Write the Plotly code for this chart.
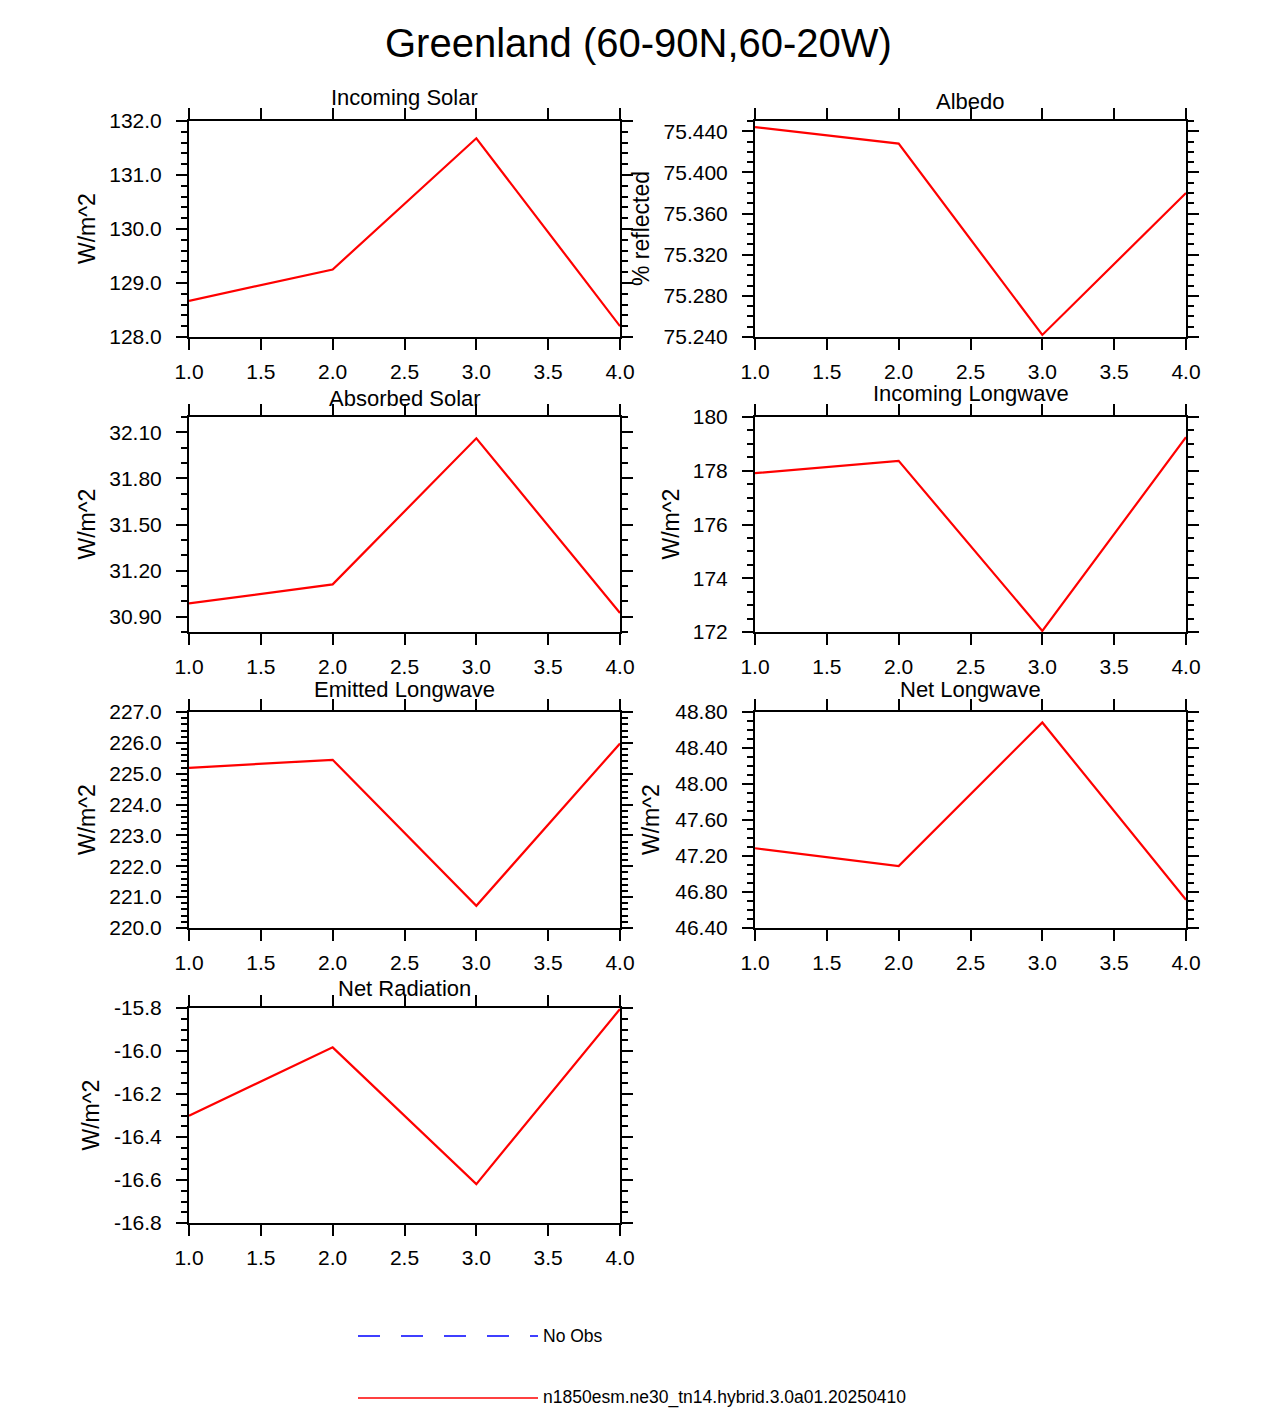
import plotly.graph_objects as go

# months on the x axis
months = [1, 2, 3, 4]

# regional means
incoming_solar = [128.67, 129.25, 131.68, 128.20]
albedo = [75.444, 75.428, 75.242, 75.380]
absorbed_solar = [30.986, 31.110, 32.061, 30.924]
incoming_lw = [177.91, 178.37, 172.04, 179.25]
emitted_lw = [225.19, 225.45, 220.72, 225.98]
net_lw = [47.286, 47.088, 48.684, 46.713]
net_rad = [-16.301, -15.983, -16.619, -15.805]

titles = ["Incoming Solar", "Albedo", "Absorbed Solar", "Incoming Longwave",
          "Emitted Longwave", "Net Longwave", "Net Radiation"]
units = ["W/m^2", "% reflected", "W/m^2", "W/m^2", "W/m^2", "W/m^2", "W/m^2"]
series = [incoming_solar, albedo, absorbed_solar, incoming_lw, emitted_lw, net_lw, net_rad]
y_ranges = [(128.0, 132.0), (75.240, 75.450), (30.80, 32.20), (172, 180),
            (220.0, 227.0), (46.40, 48.80), (-16.8, -15.8)]
# major tick values (labels are printed with a plain hyphen minus, like NCL)
y_ticks = [
    [128.0, 129.0, 130.0, 131.0, 132.0],
    [75.240, 75.280, 75.320, 75.360, 75.400, 75.440],
    [30.90, 31.20, 31.50, 31.80, 32.10],
    [172, 174, 176, 178, 180],
    [220.0, 221.0, 222.0, 223.0, 224.0, 225.0, 226.0, 227.0],
    [46.40, 46.80, 47.20, 47.60, 48.00, 48.40, 48.80],
    [-16.8, -16.6, -16.4, -16.2, -16.0, -15.8],
]
y_decimals = [1, 3, 2, 0, 1, 2, 1]
y_minor = [0.2, 0.01, 0.1, 0.5, 0.2, 0.1, 0.05]

case_name = "n1850esm.ne30_tn14.hybrid.3.0a01.20250410"

W, H = 1275, 1410
OFF = 8  # the page body margin shifts the figure by this much
FONT = "Liberation Sans, Arial, Helvetica, sans-serif"

def px(x):
    return (x - OFF) / W

def py(y):
    return 1 - (y - OFF) / H

# panel boxes in pixels: (left, right, top, bottom)
cols = [(189, 620), (755, 1186)]
rows = [(121, 337), (417, 632), (712, 928), (1008, 1223)]
# title centre y and y-label centre x for each panel
title_y = [98, 102, 398, 393, 689, 689, 989]
ylab_x = [87, 641, 87, 671, 87, 651, 90]

fig = go.Figure()
annotations = []

for i, vals in enumerate(series):
    r, c = divmod(i, 2)
    x0, x1 = cols[c]
    y0, y1 = rows[r]
    n = i + 1
    xa = "x" if n == 1 else f"x{n}"
    ya = "y" if n == 1 else f"y{n}"

    fig.add_trace(go.Scatter(
        x=months, y=vals, mode="lines",
        line=dict(color="red", width=2.2),
        xaxis=xa, yaxis=ya, showlegend=False, hoverinfo="x+y"
    ))

    common = dict(
        showline=True, linewidth=2, linecolor="black", mirror="ticks",
        ticks="outside", ticklen=11, tickwidth=2, tickcolor="black",
        showgrid=False, zeroline=False, automargin=False,
        tickfont=dict(family=FONT, size=21, color="black"),
    )
    ticktext = [f"{v:.{y_decimals[i]}f}" for v in y_ticks[i]]
    fig.update_layout({
        ("xaxis" if n == 1 else f"xaxis{n}"): dict(
            domain=[px(x0), px(x1)], anchor=ya, range=[1, 4],
            tick0=1, dtick=0.5, tickformat=".1f", ticklabelstandoff=4, **common),
        ("yaxis" if n == 1 else f"yaxis{n}"): dict(
            domain=[py(y1), py(y0)], anchor=xa, range=list(y_ranges[i]),
            tickmode="array", tickvals=y_ticks[i], ticktext=ticktext,
            ticklabelstandoff=10,
            minor=dict(tick0=y_ticks[i][0], dtick=y_minor[i], ticks="outside",
                       ticklen=6, tickwidth=1.5, tickcolor="black", showgrid=False),
            **common),
    })

    annotations.append(dict(
        text=titles[i], x=px((x0 + x1) / 2), y=py(title_y[i]),
        xanchor="center", yanchor="middle",
        xref="paper", yref="paper", showarrow=False,
        font=dict(family=FONT, size=22, color="black")))
    annotations.append(dict(
        text=units[i], x=px(ylab_x[i]), y=py((y0 + y1) / 2),
        xanchor="center", yanchor="middle",
        xref="paper", yref="paper", showarrow=False, textangle=-90,
        font=dict(family=FONT, size=23, color="black")))

# main title
annotations.append(dict(
    text="Greenland (60-90N,60-20W)", x=px(638), y=py(43),
    xanchor="center", yanchor="middle",
    xref="paper", yref="paper", showarrow=False,
    font=dict(family=FONT, size=40, color="black")))

# legend entries
annotations.append(dict(
    text="No Obs", x=px(541), y=py(1336), xanchor="left", yanchor="middle",
    xref="paper", yref="paper", showarrow=False,
    font=dict(family=FONT, size=17.5, color="black")))
annotations.append(dict(
    text=case_name, x=px(541), y=py(1397), xanchor="left", yanchor="middle",
    xref="paper", yref="paper", showarrow=False,
    font=dict(family=FONT, size=17.5, color="black")))

shapes = [
    dict(type="line", xref="paper", yref="paper",
         x0=px(358), x1=px(538), y0=py(1336), y1=py(1336),
         line=dict(color="blue", width=1.3, dash="22px,21px")),
    dict(type="line", xref="paper", yref="paper",
         x0=px(358), x1=px(538), y0=py(1398), y1=py(1398),
         line=dict(color="red", width=1.3)),
]

fig.update_layout(
    width=W, height=H,
    margin=dict(l=0, r=0, t=0, b=0, pad=0, autoexpand=False),
    paper_bgcolor="white", plot_bgcolor="white",
    annotations=annotations, shapes=shapes,
    font=dict(family=FONT, color="black"),
)

fig.write_html("out.html")
